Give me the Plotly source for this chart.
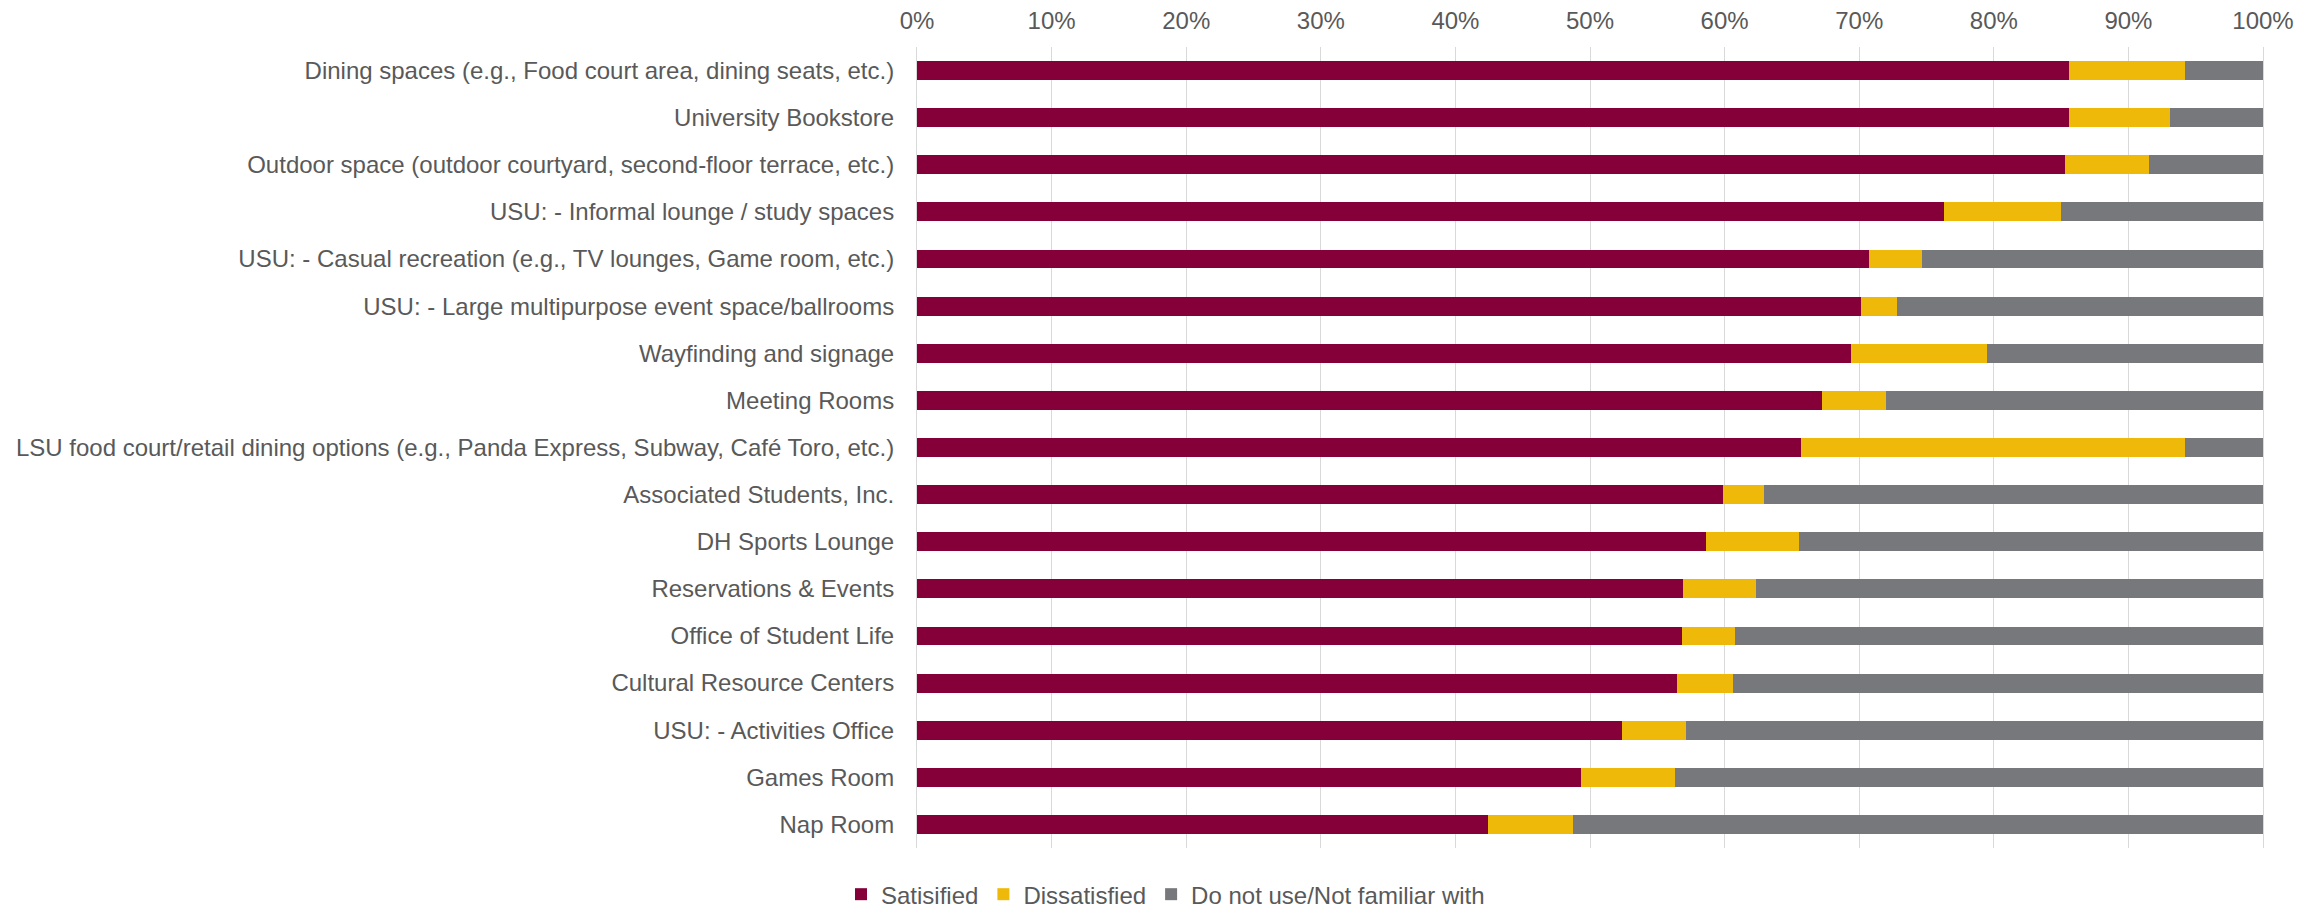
import plotly.graph_objects as go

categories = [
    "Dining spaces (e.g., Food court area, dining seats, etc.)",
    "University Bookstore",
    "Outdoor space (outdoor courtyard, second-floor terrace, etc.)",
    "USU: - Informal lounge / study spaces",
    "USU: - Casual recreation (e.g., TV lounges, Game room, etc.)",
    "USU: - Large multipurpose event space/ballrooms",
    "Wayfinding and signage",
    "Meeting Rooms",
    "LSU food court/retail dining options (e.g., Panda Express, Subway, Café Toro, etc.)",
    "Associated Students, Inc.",
    "DH Sports Lounge",
    "Reservations & Events",
    "Office of Student Life",
    "Cultural Resource Centers",
    "USU: - Activities Office",
    "Games Room",
    "Nap Room",
]

satisfied = [85.6, 85.6, 85.3, 76.3, 70.7, 70.1, 69.4, 67.2, 65.7, 59.9, 58.6, 56.9, 56.8, 56.5, 52.4, 49.3, 42.4]
dissatisfied = [8.6, 7.5, 6.2, 8.7, 4.0, 2.7, 10.1, 4.8, 28.5, 3.0, 6.9, 5.4, 4.0, 4.1, 4.7, 7.0, 6.3]
not_used = [5.8, 6.9, 8.5, 15.0, 25.3, 27.2, 20.5, 28.0, 5.8, 37.1, 34.5, 37.7, 39.2, 39.4, 42.9, 43.7, 51.3]

series_names = ["Satisified", "Dissatisfied", "Do not use/Not familiar with"]
series_colors = ["#850038", "#EFB90A", "#76787B"]

fig = go.Figure()
for name, vals, col in zip(series_names, [satisfied, dissatisfied, not_used], series_colors):
    fig.add_trace(go.Bar(
        y=categories, x=vals, name=name, orientation="h",
        marker=dict(color=col, line=dict(width=0)),
    ))

text_color = "#595959"
grid_color = "#D9D9D9"

fig.update_layout(
    barmode="stack",
    bargap=0.6,
    width=2315, height=901,
    margin=dict(l=909, r=60, t=39, b=61, autoexpand=False),
    paper_bgcolor="white", plot_bgcolor="white",
    font=dict(family="Liberation Sans, Arial, sans-serif", size=24, color=text_color),
    showlegend=True,
    legend=dict(
        orientation="h", xref="container", yref="container",
        x=0.5, xanchor="center", y=0.016, yanchor="middle",
        font=dict(size=24, color=text_color),
        traceorder="normal", itemwidth=30,
        bgcolor="rgba(0,0,0,0)",
    ),
    xaxis=dict(
        side="top", range=[0, 100], dtick=10, ticksuffix="%",
        showgrid=True, gridcolor=grid_color, gridwidth=1,
        zeroline=False, showline=False, ticks="",
        ticklabelstandoff=12,
        tickfont=dict(size=24, color=text_color),
    ),
    yaxis=dict(
        autorange="reversed", showgrid=False, zeroline=False,
        showline=True, mirror=True, linecolor=grid_color, linewidth=1,
        ticks="", ticklabelstandoff=17,
        tickfont=dict(size=24, color=text_color),
    ),
)

fig.write_html("out.html")
